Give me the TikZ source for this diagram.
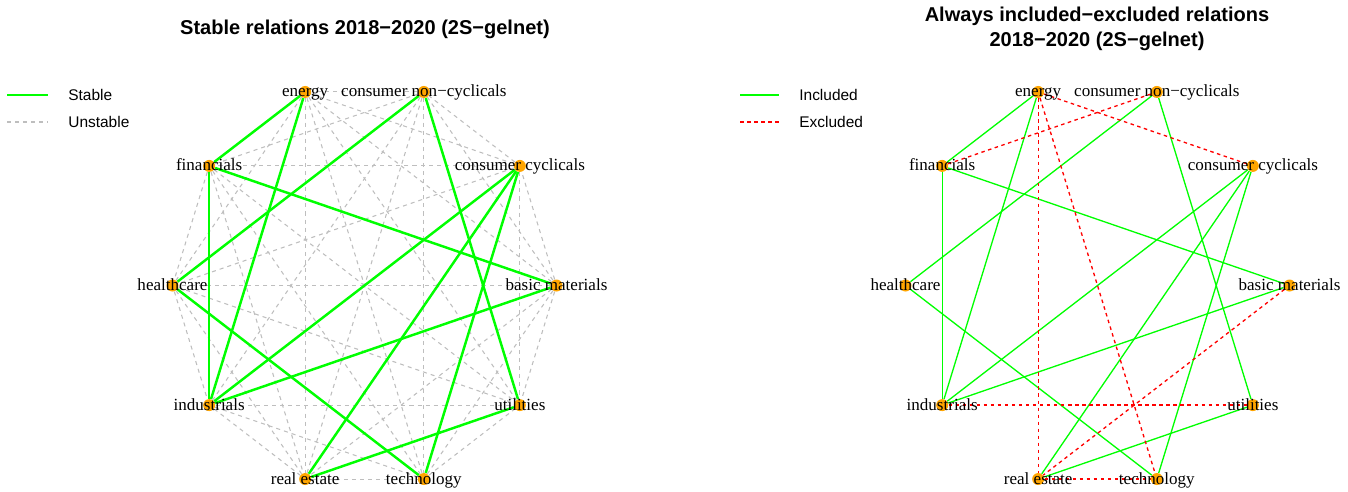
\documentclass[tikz,border=0pt]{standalone}
\usepackage{fontspec}
\setmainfont{Liberation Serif}
\setsansfont{Liberation Sans}
\usepackage{tikz}
\usetikzlibrary{backgrounds}
\definecolor{netgreen}{RGB}{0,255,0}
\definecolor{netorange}{RGB}{255,165,0}
\definecolor{netgray}{RGB}{190,190,190}
\definecolor{netred}{RGB}{255,0,0}
\tikzset{
  netnode/.style={circle, fill=netorange, minimum size=0.24cm, inner sep=0pt},
  netlabel/.style={font=\fontsize{9.7}{11}\selectfont, inner sep=0pt, anchor=base, yshift=-0.1cm},
  stableedge/.style={draw=netgreen, line width=1.4pt},
  unstableedge/.style={draw=netgray, line width=0.6pt, dash pattern=on 2.3pt off 2.3pt},
  inedge/.style={draw=netgreen, line width=0.75pt},
  exedge/.style={draw=netred, line width=0.75pt, dash pattern=on 2pt off 2pt},
  plottitle/.style={font=\sffamily\bfseries\fontsize{11.4}{14.2}\selectfont, align=center},
  legtext/.style={font=\sffamily\fontsize{8.8}{10}\selectfont, anchor=west, inner sep=0pt}
}

\begin{document}
\begin{tikzpicture}[x=0.02cm, y=-0.02cm]
  \useasboundingbox (0,0) rectangle (1348,491);
  % titles
  \node[plottitle] (title-a) at (365,29) {Stable relations 2018−2020 (2S−gelnet)};
  \node[plottitle] (title-b) at (1097,29) {Always included−excluded relations\\2018−2020 (2S−gelnet)};
  % vertices of both panels
  \foreach \p/\cx in {a/364.5, b/1097.5} {
    \foreach \v/\ang/\txt in {bm/0/basic materials, cc/36/consumer cyclicals,
        cnc/72/consumer non−cyclicals, en/108/energy, fi/144/financials,
        hc/180/healthcare, ind/216/industrials, re/252/real estate,
        te/288/technology, ut/324/utilities} {
      \node[netnode] (\p-\v) at ({\cx+192*cos(\ang)}, {285.5-203.5*sin(\ang)}) {};
      \node[netlabel] (\p-\v-txt) at (\p-\v) {\txt};
    }
  }
  \begin{scope}[on background layer]
    % left panel
    \foreach \s/\t in {bm/cc, bm/cnc, bm/en, bm/hc, bm/re, bm/te, bm/ut,
        cc/cnc, cc/en, cc/fi, cc/hc, cc/ut, cnc/en, cnc/fi, cnc/ind, cnc/re, cnc/te,
        en/hc, en/re, en/te, en/ut, fi/hc, fi/re, fi/te, fi/ut,
        hc/ind, hc/re, hc/ut, ind/re, ind/te, ind/ut, re/te, te/ut}
      \draw[unstableedge] (a-\s) -- (a-\t);
    \foreach \s/\t in {en/fi, en/ind, cnc/hc, cnc/ut, fi/bm, fi/ind,
        cc/ind, cc/re, cc/te, hc/te, bm/ind, ut/re}
      \draw[stableedge] (a-\s) -- (a-\t);
    % right panel
    \foreach \s/\t in {en/fi, en/ind, cnc/hc, cnc/ut, fi/bm, fi/ind,
        cc/ind, cc/re, cc/te, hc/te, bm/ind, ut/re}
      \draw[inedge] (b-\s) -- (b-\t);
    \foreach \s/\t in {en/cc, cnc/fi, en/re, en/te, ind/ut, re/te, bm/re}
      \draw[exedge] (b-\s) -- (b-\t);
  \end{scope}
  % legends
  \coordinate (ka1) at (7,95);   \coordinate (ka2) at (48,95);
  \coordinate (ka3) at (7,122);  \coordinate (ka4) at (48,122);
  \draw[stableedge] (ka1) -- (ka2);
  \draw[unstableedge] (ka3) -- (ka4);
  \node[legtext] (leg-stable) at (68,95) {Stable};
  \node[legtext] (leg-unstable) at (68,122) {Unstable};
  \coordinate (kb1) at (740,95); \coordinate (kb2) at (779,95);
  \coordinate (kb3) at (740,122); \coordinate (kb4) at (779,122);
  \draw[inedge] (kb1) -- (kb2);
  \draw[exedge] (kb3) -- (kb4);
  \node[legtext] (leg-in) at (799,95) {Included};
  \node[legtext] (leg-ex) at (799,122) {Excluded};
\end{tikzpicture}
\end{document}
